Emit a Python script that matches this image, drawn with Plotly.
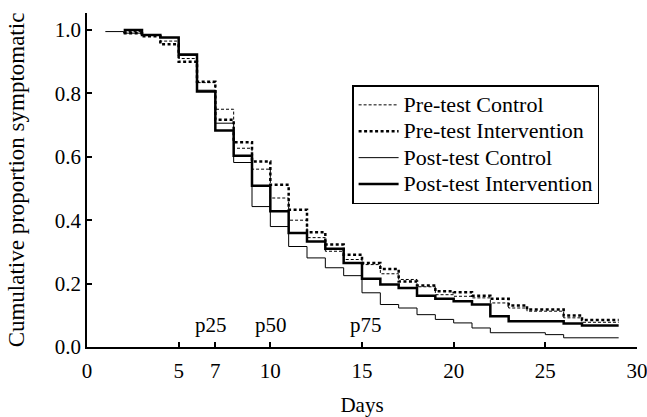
import plotly.graph_objects as go

# ---- data ----
pre_control_days = [2, 3, 4, 5, 6, 7, 8, 9, 10, 11, 12, 13, 14, 15, 16, 17, 18, 19, 20, 21, 22, 23, 24, 26, 27, 29]
pre_control_vals = [0.995, 0.985, 0.965, 0.91, 0.834, 0.75, 0.627, 0.561, 0.47, 0.40, 0.345, 0.302, 0.276, 0.26,
                    0.231, 0.213, 0.19, 0.165, 0.16, 0.155, 0.139, 0.123, 0.113, 0.092, 0.078, 0.078]

pre_interv_days = [2, 3, 4, 5, 6, 7, 8, 9, 10, 11, 12, 13, 14, 15, 16, 17, 18, 19, 20, 21, 22, 23, 24, 26, 27, 29]
pre_interv_vals = [0.99, 0.98, 0.955, 0.90, 0.837, 0.717, 0.646, 0.585, 0.512, 0.433, 0.362, 0.323, 0.291, 0.265,
                   0.246, 0.207, 0.194, 0.176, 0.173, 0.162, 0.152, 0.131, 0.118, 0.099, 0.085, 0.085]

post_control_days = [1, 2, 3, 4, 5, 6, 7, 8, 9, 10, 11, 12, 13, 14, 15, 16, 17, 18, 19, 20, 21, 22, 25, 26, 29]
post_control_vals = [0.995, 0.99, 0.984, 0.976, 0.92, 0.81, 0.706, 0.582, 0.443, 0.38, 0.317, 0.281, 0.25, 0.225,
                     0.171, 0.134, 0.123, 0.102, 0.087, 0.076, 0.060, 0.045, 0.039, 0.029, 0.029]

post_interv_days = [2, 3, 4, 5, 6, 7, 8, 9, 10, 11, 12, 13, 14, 15, 16, 17, 18, 19, 20, 21, 22, 23, 26, 27, 29]
post_interv_vals = [1.0, 0.984, 0.976, 0.923, 0.806, 0.683, 0.603, 0.509, 0.428, 0.36, 0.333, 0.31, 0.265, 0.215,
                    0.197, 0.186, 0.162, 0.152, 0.144, 0.134, 0.097, 0.081, 0.074, 0.068, 0.068]

series_names = ["Pre-test Control", "Pre-test Intervention", "Post-test Control", "Post-test Intervention"]

x_ticks = [0, 5, 7, 10, 15, 20, 25, 30]
y_ticks = [0.0, 0.2, 0.4, 0.6, 0.8, 1.0]

pct_labels = ["p25", "p50", "p75"]
pct_days = [6.77, 10.02, 15.2]
pct_y = 0.069

FONT = "Liberation Serif, Times New Roman, serif"


def legend_label(s):
    return "<span style='font-size:22px'>%s</span>" % s


fig = go.Figure()
fig.add_trace(go.Scatter(x=pre_control_days, y=pre_control_vals, mode="lines", line_shape="hv",
                         name=legend_label(series_names[0]),
                         line=dict(color="black", width=1, dash="3px,2px")))
fig.add_trace(go.Scatter(x=pre_interv_days, y=pre_interv_vals, mode="lines", line_shape="hv",
                         name=legend_label(series_names[1]),
                         line=dict(color="black", width=2.5, dash="3px,2.5px")))
fig.add_trace(go.Scatter(x=post_control_days, y=post_control_vals, mode="lines", line_shape="hv",
                         name=legend_label(series_names[2]),
                         line=dict(color="black", width=1)))
fig.add_trace(go.Scatter(x=post_interv_days, y=post_interv_vals, mode="lines", line_shape="hv",
                         name=legend_label(series_names[3]),
                         line=dict(color="black", width=2.5)))

for lab, d in zip(pct_labels, pct_days):
    fig.add_annotation(x=d, y=pct_y, text=lab, showarrow=False, xanchor="center", yanchor="middle",
                       font=dict(family=FONT, size=21, color="black"))

fig.update_layout(
    width=647, height=417,
    margin=dict(l=87, r=10, t=13, b=70),
    paper_bgcolor="white", plot_bgcolor="white",
    font=dict(family=FONT, size=21, color="black"),
    showlegend=True,
    legend=dict(x=0.482, y=0.784, xanchor="left", yanchor="top",
                bgcolor="white", bordercolor="black", borderwidth=1.5,
                font=dict(family=FONT, size=18, color="black"),
                itemwidth=40, tracegroupgap=0),
    xaxis=dict(range=[0, 30], tickvals=x_ticks, ticktext=[str(v) for v in x_ticks],
               showline=True, linecolor="black", linewidth=1.5, ticks="inside", ticklen=5,
               tickcolor="black", tickwidth=1.5, showgrid=False, zeroline=False,
               automargin=False, ticklabeloverflow="allow", ticklabelstandoff=4,
               title=dict(text="Days", standoff=19, font=dict(family=FONT, size=21, color="black")),
               tickfont=dict(size=21)),
    yaxis=dict(range=[0, 1.0536], tickvals=y_ticks, ticktext=["%.1f" % v for v in y_ticks],
               showline=True, linecolor="black", linewidth=1.5, ticks="inside", ticklen=5,
               tickcolor="black", tickwidth=1.5, showgrid=False, zeroline=False,
               automargin=False, ticklabelstandoff=0,
               title=dict(text="Cumulative proportion symptomatic", standoff=24,
                          font=dict(family=FONT, size=23, color="black")),
               tickfont=dict(size=21)),
)

fig.write_html("out.html", config={"displayModeBar": False},
               post_script="document.body.style.margin='0';")
